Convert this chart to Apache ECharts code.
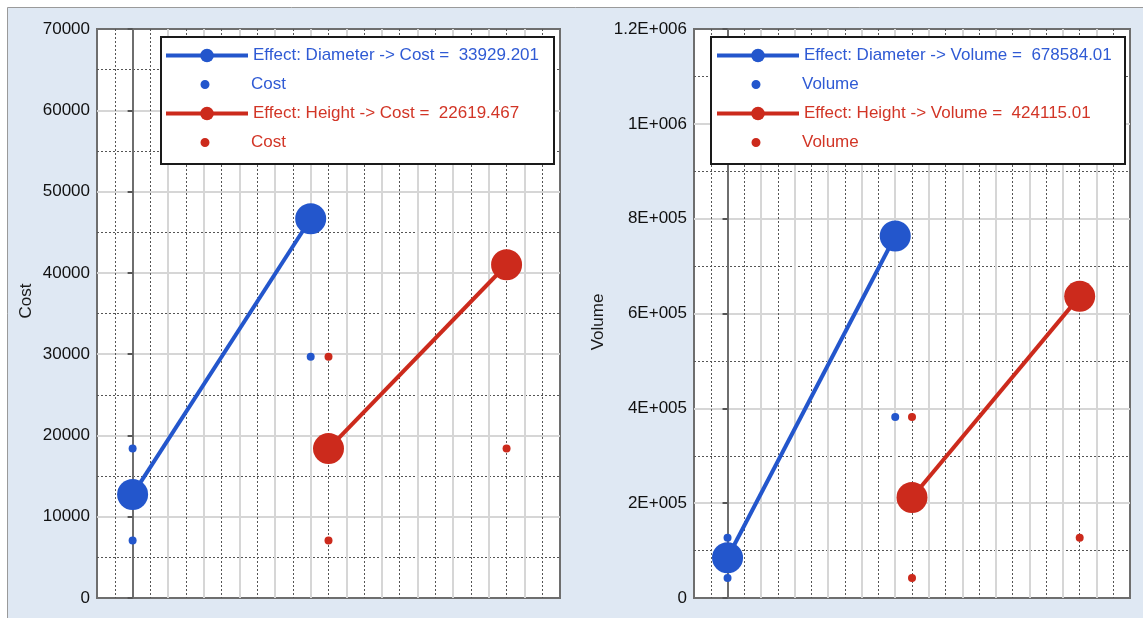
<!DOCTYPE html>
<html>
<head>
<meta charset="utf-8">
<script src="https://cdn.jsdelivr.net/npm/echarts@6/dist/echarts.min.js"></script>
<style>
  html, body { margin: 0; padding: 0; background: #fff; }
  #chart { width: 1143px; height: 618px; }
</style>
</head>
<body>
<div id="chart"></div>
<script>
// factor level positions on the (hidden) x axis
const diameterX = [0, 10]
const heightX = [11, 21]

// design runs: D-H-, D-H+, D+H-, D+H+
const costRuns = [7068.58, 18378.32, 29688.05, 63617.25]
const volumeRuns = [42411.5, 127234.5, 381703.5, 1145110.5]

// main effect means (low level, high level)
const costDiameterMeans = [12723.45, 46652.65]
const costHeightMeans = [18378.32, 40997.78]
const volumeDiameterMeans = [84823.0, 763407.0]
const volumeHeightMeans = [212057.5, 636172.5]

const costEffects = ['33929.201', '22619.467']
const volumeEffects = ['678584.01', '424115.01']

const costTicks = ['0', '10000', '20000', '30000', '40000', '50000', '60000', '70000']
const volumeTicks = ['0', '2E+005', '4E+005', '6E+005', '8E+005', '1E+006', '1.2E+006']

const BLUE = '#2356cc'
const RED = '#cc2a1c'
const BLUE_TEXT = '#2f5ad4'
const RED_TEXT = '#d23526'
const FONT = '"Liberation Sans", Arial, sans-serif'

// small dot centred in an 82x17 legend box
const DOT_ICON = 'path://M0,0L0.01,0M82,17L81.99,17M36.5,8.5a4.5,4.5 0 1,0 9,0a4.5,4.5 0 1,0 -9,0z'

const chart = echarts.init(document.getElementById('chart'))

const lightLines = Array(13).fill('#d6d6d6')

const makeX = (gridIndex) => ({
  type: 'value',
  gridIndex,
  min: -2,
  max: 24,
  interval: 2,
  axisLine: { show: false },
  axisTick: { show: false },
  axisLabel: { show: false },
  minorTick: { show: false, splitNumber: 2 },
  splitLine: {
    show: true,
    showMinLine: false,
    showMaxLine: false,
    lineStyle: { color: ['#707070'].concat(lightLines), width: 2 },
  },
  minorSplitLine: {
    show: true,
    lineStyle: { color: '#555', width: 1, type: [2, 2] },
  },
})

const makeY = (gridIndex, name, max, interval, ticks, nameGap, namePad) => ({
  type: 'value',
  gridIndex,
  min: 0,
  max,
  interval,
  name,
  nameLocation: 'middle',
  nameGap,
  nameTextStyle: { fontSize: 17, color: '#1a1a1a', fontFamily: FONT, padding: namePad },
  axisLine: { show: true, lineStyle: { color: '#6e6e6e', width: 2 } },
  axisTick: { show: true, length: 5, lineStyle: { color: '#555', width: 2 } },
  axisLabel: {
    fontSize: 17,
    color: '#111',
    fontFamily: FONT,
    margin: 7,
    formatter: (v) => ticks[Math.round(v / interval)],
  },
  minorTick: { show: false, splitNumber: 2 },
  splitLine: {
    show: true,
    showMinLine: false,
    showMaxLine: false,
    lineStyle: { color: '#d6d6d6', width: 2 },
  },
  minorSplitLine: {
    show: true,
    lineStyle: { color: '#555', width: 1, type: [2, 2] },
  },
})

const makeSeries = (idx, label, runs, dMeans, hMeans, effects) => {
  const dName = 'Effect: Diameter -> ' + label + ' =  ' + effects[0]
  const hName = 'Effect: Height -> ' + label + ' =  ' + effects[1]
  const lineBase = {
    type: 'line',
    xAxisIndex: idx,
    yAxisIndex: idx,
    symbol: 'circle',
    symbolSize: 31,
    z: 2,
  }
  const dotBase = {
    type: 'scatter',
    xAxisIndex: idx,
    yAxisIndex: idx,
    symbol: 'circle',
    symbolSize: 8,
    z: 2,
  }
  return [
    Object.assign({}, dotBase, {
      name: label + '_d' + idx,
      itemStyle: { color: BLUE, opacity: 1 },
      data: [
        [diameterX[0], runs[0]], [diameterX[0], runs[1]],
        [diameterX[1], runs[2]], [diameterX[1], runs[3]],
      ],
    }),
    Object.assign({}, dotBase, {
      name: label + '_h' + idx,
      itemStyle: { color: RED, opacity: 1 },
      data: [
        [heightX[0], runs[0]], [heightX[0], runs[2]],
        [heightX[1], runs[1]], [heightX[1], runs[3]],
      ],
    }),
    Object.assign({}, lineBase, {
      name: dName,
      itemStyle: { color: BLUE },
      lineStyle: { color: BLUE, width: 4 },
      data: [[diameterX[0], dMeans[0]], [diameterX[1], dMeans[1]]],
    }),
    Object.assign({}, lineBase, {
      name: hName,
      itemStyle: { color: RED },
      lineStyle: { color: RED, width: 4 },
      data: [[heightX[0], hMeans[0]], [heightX[1], hMeans[1]]],
    }),
  ]
}

// one legend per row so the dot rows can use their own icon
const makeLegends = (idx, label, effects, left) => {
  const rows = [
    { name: 'Effect: Diameter -> ' + label + ' =  ' + effects[0], color: BLUE_TEXT },
    { name: label + '_d' + idx, color: BLUE_TEXT, icon: DOT_ICON },
    { name: 'Effect: Height -> ' + label + ' =  ' + effects[1], color: RED_TEXT },
    { name: label + '_h' + idx, color: RED_TEXT, icon: DOT_ICON },
  ]
  const tops = [47, 76, 105, 134]
  return rows.map((r, i) => {
    const item = { name: r.name, textStyle: { color: r.color } }
    if (r.icon) item.icon = r.icon
    return {
      left,
      top: tops[i],
      padding: 0,
      itemWidth: 82,
      itemHeight: 17,
      itemGap: 0,
      selectedMode: false,
      z: 10,
      lineStyle: { width: 4 },
      formatter: (n) => n.replace(/_[dh]\d$/, ''),
      textStyle: { fontSize: 17, fontFamily: FONT, color: r.color },
      data: [item],
    }
  })
}

const option = {
  animation: false,
  backgroundColor: '#fff',
  graphic: [
    {
      type: 'rect',
      z: -10,
      shape: { x: 7.5, y: 7.5, width: 1140, height: 615 },
      style: { fill: '#dfe8f3', stroke: '#9a9a9a', lineWidth: 1 },
    },
    {
      type: 'rect',
      z: 5,
      shape: { x: 161, y: 37, width: 393, height: 127 },
      style: { fill: '#fff', stroke: '#1a1a1a', lineWidth: 2 },
    },
    {
      type: 'rect',
      z: 5,
      shape: { x: 711, y: 37, width: 414, height: 127 },
      style: { fill: '#fff', stroke: '#1a1a1a', lineWidth: 2 },
    },
  ],
  grid: [
    { left: 97, top: 29, width: 463, height: 569, show: true, backgroundColor: '#fff', borderColor: '#6e6e6e', borderWidth: 2 },
    { left: 694, top: 29, width: 436, height: 569, show: true, backgroundColor: '#fff', borderColor: '#6e6e6e', borderWidth: 2 },
  ],
  xAxis: [makeX(0), makeX(1)],
  yAxis: [
    makeY(0, 'Cost', 70000, 10000, costTicks, 62, [0, 0, 0, 25]),
    makeY(1, 'Volume', 1200000, 200000, volumeTicks, 87, [0, 17, 0, 0]),
  ],
  legend: [].concat(
    makeLegends(0, 'Cost', costEffects, 164),
    makeLegends(1, 'Volume', volumeEffects, 715)
  ),
  series: [].concat(
    makeSeries(0, 'Cost', costRuns, costDiameterMeans, costHeightMeans, costEffects),
    makeSeries(1, 'Volume', volumeRuns, volumeDiameterMeans, volumeHeightMeans, volumeEffects)
  ),
}

chart.setOption(option)
</script>
</body>
</html>
